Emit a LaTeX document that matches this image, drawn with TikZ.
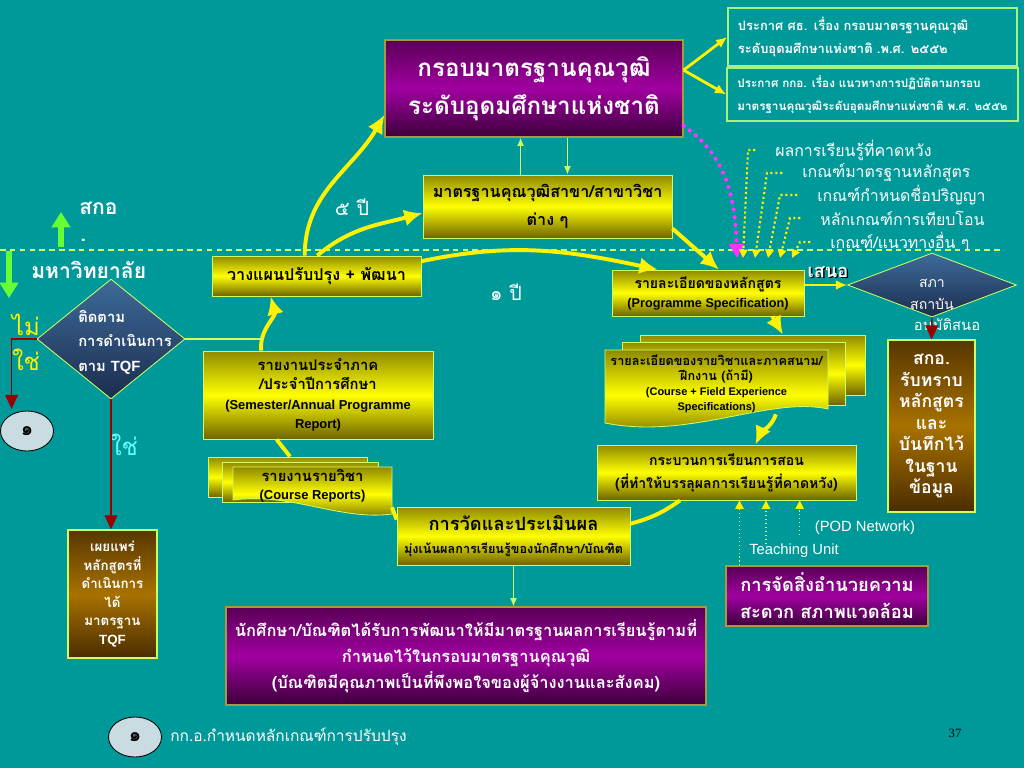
\documentclass[tikz,border=0pt]{standalone}
\usepackage{fontspec}
\setmainfont[Script=Thai]{Loma}
\newfontfamily\lat{Liberation Sans}
\newfontfamily\latser{Liberation Serif}
\usetikzlibrary{shapes.geometric,arrows.meta,calc}
\definecolor{bgteal}{HTML}{009999}
\definecolor{lemon}{HTML}{CCFF66}
\definecolor{lgreen}{HTML}{A6F27A}
\definecolor{olvtop}{HTML}{8F8A00}
\definecolor{olvbot}{HTML}{6E6400}
\definecolor{purtop}{HTML}{5A0056}
\definecolor{purmid}{HTML}{A000A0}
\definecolor{purbot}{HTML}{3C003A}
\definecolor{goldb}{HTML}{A89A3C}
\definecolor{brntop}{HTML}{573600}
\definecolor{brnmid}{HTML}{A87200}
\definecolor{brnbot}{HTML}{4A2C00}
\definecolor{dtop}{HTML}{3D6B9B}
\definecolor{dbot}{HTML}{1C2D4D}
\definecolor{pale}{HTML}{C8DCE2}
\definecolor{dred}{HTML}{990000}
\definecolor{grn}{HTML}{66FF33}
\definecolor{mag}{HTML}{FF33FF}
\definecolor{cyant}{HTML}{66FFFF}
\newdimen\pxl \pxl=0.025cm
\tikzset{>=latex,
	sz/.style 2 args={minimum width=#1*\pxl,minimum height=#2*\pxl},
	ydoc/.style={draw=lemon,line width=0.6pt,top color=olvtop,bottom color=olvbot,middle color=yellow},
	ybox/.style={rectangle,ydoc,text=black,align=center,inner sep=0pt},
	pbox/.style={rectangle,draw=goldb,line width=0.8pt,top color=purtop,bottom color=purbot,middle color=purmid,text=white,align=center,inner sep=0pt},
	bbox/.style={rectangle,draw=lemon,line width=0.8pt,top color=brntop,bottom color=brnbot,middle color=brnmid,text=white,align=center,inner sep=0pt},
	abox/.style={rectangle,draw=lgreen,line width=1pt,text=white,align=left,inner xsep=0.25cm,inner ysep=0pt},
	dmd/.style={diamond,draw=lemon,line width=0.6pt,top color=dtop,bottom color=dbot,inner sep=0pt},
	onel/.style={ellipse,draw=black,line width=0.6pt,fill=pale,inner sep=0pt,sz={53}{40},font=\fontsize{14}{16}\selectfont\bfseries},
	lbl/.style={text=white,inner sep=0pt},
	bigarr/.style={draw=yellow,line width=2.8pt,-{Latex[length=13pt,width=12pt]}},
	bigline/.style={draw=yellow,line width=2.8pt},
	forkarr/.style={draw=yellow,line width=2pt,-{Latex[length=8pt,width=7pt]}},
	medarr/.style={draw=yellow,line width=1.4pt,-{Latex[length=8pt,width=7pt]}},
	thinarr/.style={draw=lemon,line width=1pt,-{Latex[length=6pt,width=5pt]}},
	thinline/.style={draw=lemon,line width=1pt},
	redarr/.style={draw=dred,line width=1pt,-{Triangle[length=10pt,width=9pt]}},
	grnarr/.style={draw=grn,line width=4pt,-{Triangle[length=11pt,width=13pt]}},
	critarr/.style={draw=yellow,line width=1.5pt,dotted,shorten <=14pt,-{Triangle[length=6pt,width=6pt]}},
	tdot/.style={draw=lemon,line width=0.8pt,dotted,-{Triangle[length=6pt,width=6pt,color=yellow]}},
	magarr/.style={draw=mag,line width=3pt,line cap=round,dash pattern=on 0pt off 5.5pt,-{Triangle[length=10pt,width=10pt]}},
	divider/.style={draw=lemon,line width=0.8pt,dash pattern=on 4pt off 3pt},
}

\begin{document}
\begin{tikzpicture}[x=0.025cm,y=0.025cm]
	\fill[bgteal] (0,0) rectangle (1024,-768);
	\useasboundingbox (0,0) rectangle (1024,-768);

	% national framework and announcements
	\node[pbox,sz={298}{97},font=\fontsize{17.2}{27}\selectfont\bfseries] (nqf) at (534,-88.5) {กรอบมาตรฐานคุณวุฒิ\\ระดับอุดมศึกษาแห่งชาติ};
	\node[abox,sz={289}{58},text width=6.725cm,font=\fontsize{9.2}{16}\selectfont\bfseries] (ann1) at (872.5,-37) {ประกาศ ศธ. เรื่อง กรอบมาตรฐานคุณวุฒิ\\ระดับอุดมศึกษาแห่งชาติ .พ.ศ. ๒๕๕๒};
	\node[abox,sz={291}{53},inner xsep=0pt,font=\fontsize{8.3}{16}\selectfont\bfseries] (ann2) at (872.5,-94.5) {ประกาศ กกอ. เรื่อง แนวทางการปฏิบัติตามกรอบ\\มาตรฐานคุณวุฒิระดับอุดมศึกษาแห่งชาติ พ.ศ. ๒๕๕๒};
	\node[ybox,sz={249}{63},font=\fontsize{11.5}{20}\selectfont\bfseries] (fstd) at (547.5,-206.5) {มาตรฐานคุณวุฒิสาขา/สาขาวิชา\\ต่าง ๆ};

	% criteria
	\node[lbl,anchor=west,font=\fontsize{11.3}{14}\selectfont] (crit1) at (775,-150) {ผลการเรียนรู้ที่คาดหวัง};
	\node[lbl,anchor=west,font=\fontsize{11.3}{14}\selectfont] (crit2) at (802,-173) {เกณฑ์มาตรฐานหลักสูตร};
	\node[lbl,anchor=west,font=\fontsize{11.3}{14}\selectfont] (crit3) at (817,-195) {เกณฑ์กำหนดชื่อปริญญา};
	\node[lbl,anchor=west,font=\fontsize{11.3}{14}\selectfont] (crit4) at (820,-218) {หลักเกณฑ์การเทียบโอน};
	\node[lbl,anchor=west,font=\fontsize{11.3}{14}\selectfont] (crit5) at (830,-242) {เกณฑ์/แนวทางอื่น ๆ};

	% left side
	\node[lbl,anchor=west,font=\fontsize{15}{18}\selectfont\bfseries] (sko) at (79,-208) {สกอ};
	\node[lbl,anchor=west,font=\fontsize{15}{18}\selectfont\bfseries] (skodot) at (80,-240) {.};
	\node[lbl,anchor=west,font=\fontsize{15}{18}\selectfont\bfseries] (uni) at (31,-270) {มหาวิทยาลัย};
	\draw[grnarr] (61,-247) -- (61,-212);
	\draw[grnarr] (9,-251) -- (9,-298);
	\draw[divider] (0,-250) -- (1000,-250);

	\node[dmd,aspect=1.23,sz={148}{120}] (monitor) at (111,-339) {};
	\node[lbl,anchor=west,align=left,font=\fontsize{10.5}{17.4}\selectfont\bfseries] (montxt) at (78,-342) {ติดตาม\\การดำเนินการ\\ตาม {\lat TQF}};
	\node[lbl,text=yellow,font=\fontsize{17}{20}\selectfont] (no) at (26,-325) {ไม่};
	\node[lbl,text=yellow,font=\fontsize{17}{20}\selectfont] (yes1) at (26,-360) {ใช่};
	\node[lbl,text=cyant,font=\fontsize{17}{20}\selectfont] (yes2) at (124,-445) {ใช่};
	\node[onel] (one1) at (27,-431) {๑};
	\node[bbox,sz={89}{128},font=\fontsize{9.5}{13.2}\selectfont\bfseries] (pub) at (112.5,-594) {เผยแพร่\\หลักสูตรที่\\ดำเนินการ\\ได้\\มาตรฐาน\\{\lat TQF}};
	\node[onel] (one2) at (135,-737) {๑};
	\node[lbl,anchor=west,font=\fontsize{11}{14}\selectfont] (rule) at (170,-737) {กก.อ.กำหนดหลักเกณฑ์การปรับปรุง};
	\node[font=\latser\fontsize{9}{11}\selectfont] (pgno) at (955,-733) {37};

	% cycle
	\node[ybox,sz={209}{40},font=\fontsize{11.5}{15}\selectfont\bfseries] (plan) at (316.5,-276) {วางแผนปรับปรุง + พัฒนา};
	\node[lbl,font=\fontsize{14}{16}\selectfont] (fiveyr) at (352,-207) {๕ ปี};
	\node[lbl,font=\fontsize{14}{16}\selectfont] (oneyr) at (506,-292) {๑ ปี};
	\node[ybox,sz={192}{46},font=\fontsize{10}{13.5}\selectfont\bfseries] (prog) at (708,-293) {รายละเอียดของหลักสูตร\\{\lat\fontsize{9}{13.5}\selectfont (Programme Specification)}};
	\node[lbl,text=black,font=\fontsize{13}{15}\selectfont\bfseries] (proposesh) at (829.5,-273.5) {เสนอ};
	\node[lbl,font=\fontsize{13}{15}\selectfont\bfseries] (propose) at (828,-272) {เสนอ};
	\node[dmd,aspect=2.64,sz={169}{64}] (sapha) at (932,-285) {};
	\node[lbl,align=center,font=\fontsize{10}{15.6}\selectfont] (saphatxt) at (932,-294) {สภา\\สถาบัน};
	\node[lbl,font=\fontsize{10.5}{13}\selectfont] (approve) at (947,-326) {อนุมัติสนอ};
	\node[bbox,sz={87}{172},font=\fontsize{12.5}{15.3}\selectfont\bfseries] (okc) at (931.5,-426) {สกอ.\\รับทราบ\\หลักสูตร\\และ\\บันทึกไว้\\ในฐาน\\ข้อมูล};

	\node[ybox,sz={225}{60}] (cs3) at (752.5,-365) {};
	\node[ybox,sz={223}{63}] (cs2) at (733.5,-373.5) {};
	\shadedraw[ydoc] (605,-350) -- (828,-350) -- (828,-409) .. controls (770,-396) and (690,-440) .. (605,-423) -- cycle;
	\node[align=center,inner sep=0pt,sz={223}{60},font=\fontsize{9}{10.7}\selectfont\bfseries] (cs1) at (716.5,-384) {รายละเอียดของรายวิชาและภาคสนาม/\\ฝึกงาน (ถ้ามี)\\{\lat\fontsize{7.8}{10.7}\selectfont (Course + Field Experience}\\{\lat\fontsize{7.8}{10.7}\selectfont Specifications)}};

	\node[ybox,sz={259}{55},font=\fontsize{10}{16.4}\selectfont\bfseries] (teach) at (726.5,-472.5) {กระบวนการเรียนการสอน\\(ที่ทำให้บรรลุผลการเรียนรู้ที่คาดหวัง)};
	\node[pbox,sz={202}{60},font=\fontsize{13}{19}\selectfont\bfseries] (facil) at (827,-596) {การจัดสิ่งอำนวยความ\\สะดวก สภาพแวดล้อม};
	\node[lbl,font=\lat\fontsize{10.5}{12}\selectfont] (pod) at (865,-528) {(POD Network)};
	\node[lbl,font=\lat\fontsize{10.5}{12}\selectfont] (tunit) at (794,-551) {Teaching Unit};

	\node[ybox,sz={233}{58},font=\fontsize{9}{16.5}\selectfont\bfseries] (eval) at (513.5,-536) {{\fontsize{13}{16.5}\selectfont การวัดและประเมินผล}\\มุ่งเน้นผลการเรียนรู้ของนักศึกษา/บัณฑิต};
	\node[pbox,sz={480}{98},font=\fontsize{11.7}{18.5}\selectfont\bfseries] (grad) at (466,-656) {นักศึกษา/บัณฑิตได้รับการพัฒนาให้มีมาตรฐานผลการเรียนรู้ตามที่\\กำหนดไว้ในกรอบมาตรฐานคุณวุฒิ\\(บัณฑิตมีคุณภาพเป็นที่พึงพอใจของผู้จ้างงานและสังคม)};

	\node[ybox,sz={230}{88},font=\fontsize{10.5}{13.8}\selectfont\bfseries] (semr) at (318,-395) {รายงานประจำภาค\\/ประจำปีการศึกษา\\{\lat\fontsize{9.2}{13.8}\selectfont (Semester/Annual Programme}\\{\lat\fontsize{9.2}{13.8}\selectfont Report)}};
	\node[ybox,sz={159}{40}] (cr3) at (287.5,-477) {};
	\node[ybox,sz={156}{40}] (cr2) at (300,-482) {};
	\shadedraw[ydoc] (233,-467) -- (392,-467) -- (392,-514) .. controls (340,-521) and (290,-492) .. (233,-500) -- cycle;
	\node[align=center,inner sep=0pt,sz={159}{42},font=\fontsize{10.5}{12.8}\selectfont\bfseries] (cr1) at (312.5,-486) {รายงานรายวิชา\\{\lat\fontsize{9.2}{12.8}\selectfont (Course Reports)}};

	% connectors
	\draw[forkarr] (nqf.7) -- (ann1.west);
	\draw[forkarr] (nqf.7) -- (ann2.west);
	\draw[thinarr] ($(fstd.north west)+(98,0)$) coordinate (fu) -- (fu |- nqf.south);
	\draw[thinarr] ($(nqf.south west)+(183,0)$) coordinate (fd) -- (fd |- fstd.north);
	\draw[bigarr] (plan.120) to[out=90,in=240] (nqf.190);
	\draw[bigarr] (plan.88) to[out=40,in=195] (fstd.183);
	\draw[bigarr] (plan.8) to[out=12,in=168] (prog.155);
	\draw[bigarr] (fstd.-10) -- (prog.65);
	\coordinate (mtip) at (737,-258);
	\draw[magarr] (nqf.-14) to[out=-35,in=92] (mtip);
	\foreach \i/\dx/\tx in {1/27/743,2/35/755,3/37/768,4/30/780,5/30/792}
		\draw[critarr] (crit\i.west) -- ++(-\dx,0) -- (\tx,-258);
	\draw[medarr] (sapha.west -| prog.east) -- (sapha.west);
	\draw[redarr] (sapha.south) -- (okc.north);
	\draw[bigarr] (prog.-20) -- (cs3.45);
	\draw[bigarr] (cs1.-27) to[out=-110,in=65] (teach.44);
	\draw[bigline] (teach.211) to[out=-145,in=15] (eval.6);
	\draw[bigline] (eval.172) -- (cr1.-15);
	\draw[bigline] (cr3.83) -- (semr.-133);
	\draw[bigarr] (semr.142) to[out=95,in=-75] coordinate[pos=0.25] (gm) (plan.204);
	\draw[thinline] (monitor.east) -- (monitor.east -| gm);
	\draw[redarr] (monitor.west) -- ++(-25,0) -- ++(0,-70);
	\draw[redarr] (monitor.south) -- (monitor.south |- pub.north);
	\draw[thinarr] (eval.south) -- (eval.south |- grad.north);
	\draw[tdot] ($(facil.north west)+(14,0)$) coordinate (t1) -- (t1 |- teach.south);
	\draw[tdot] ($(tunit.north west)+(17,0)$) coordinate (t2) -- (t2 |- teach.south);
	\draw[tdot] ($(pod.south west)+(-15,0)$) coordinate (t3) -- (t3 |- teach.south);
\end{tikzpicture}
\end{document}
